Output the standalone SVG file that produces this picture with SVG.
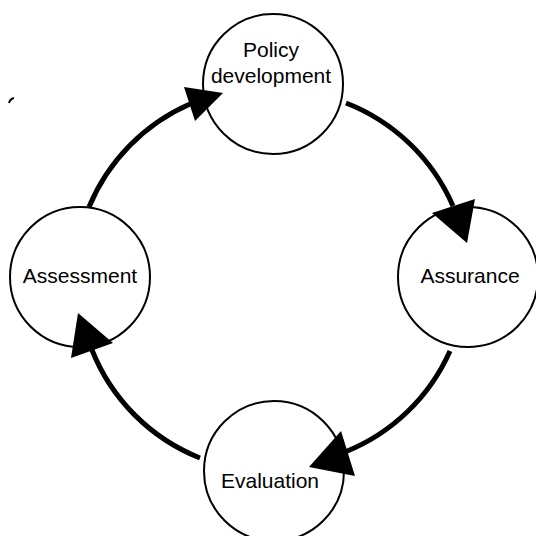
<svg xmlns="http://www.w3.org/2000/svg" width="536" height="536" viewBox="0 0 536 536">
<style>
.node circle{fill:#fff;stroke:#000;stroke-width:2}
.node text{font-family:"Liberation Sans",Arial,sans-serif;font-size:21px;fill:#000;text-anchor:middle}
.arc{fill:none;stroke:#000;stroke-width:5}
.head{fill:#000;stroke:none}
</style>
<rect width="536" height="536" fill="#fff"/>
<path d="M9,103 Q10,99 14,98" fill="none" stroke="#000" stroke-width="2"/>
<g id="connectors">
<path class="arc" d="M89,207 A193,193 0 0 1 190,104"/>
<path class="arc" d="M346,103 A193,193 0 0 1 453,206"/>
<path class="arc" d="M450,351 A193,193 0 0 1 345,452"/>
<path class="arc" d="M200,458 A193,193 0 0 1 92,350"/>
</g>
<g id="policy" class="node"><circle cx="273" cy="84" r="70"/><text x="271" y="57">Policy</text><text x="271" y="83">development</text></g>
<g id="assurance" class="node"><circle cx="468" cy="277" r="70"/><text x="470" y="283">Assurance</text></g>
<g id="evaluation" class="node"><circle cx="274" cy="471" r="70"/><text x="270" y="488">Evaluation</text></g>
<g id="assessment" class="node"><circle cx="80" cy="277" r="70"/><text x="80" y="283">Assessment</text></g>
<g id="arrowheads">
<polygon class="head" points="184,87 223,93 195,121"/>
<polygon class="head" points="432,213 475,199 467,243"/>
<polygon class="head" points="341,431 355,476 309,467"/>
<polygon class="head" points="113,343 71,358 78,313"/>
</g>
</svg>
